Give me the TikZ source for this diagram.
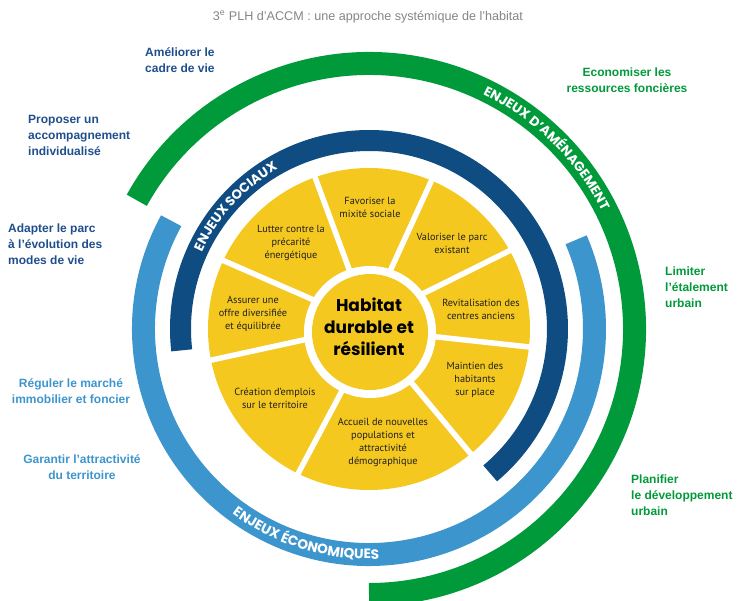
\documentclass[tikz,border=0pt]{standalone}
\usepackage{fontspec}
\setmainfont{Liberation Sans}
\newfontfamily\sectorfont{PT Sans}
\newfontfamily\roundfont{Poppins}
\usetikzlibrary{decorations.text}
\definecolor{socblue}{HTML}{0F4C81}
\definecolor{ecoblue}{HTML}{3D95CE}
\definecolor{amgreen}{HTML}{009A3A}
\definecolor{hayellow}{HTML}{F4C81F}
\definecolor{goalblue}{HTML}{1F4E8C}
\definecolor{titlegray}{HTML}{858585}

\begin{document}
\begin{tikzpicture}[
          x=1pt, y=1pt,
          band/.style={line width=#1},
          cut/.style={white, line width=5.5pt},
          sector/.style={
            align=center,
            inner sep=0pt,
            text=black!88,
            font=\sectorfont\fontsize{10.3}{13}\selectfont,
          },
          goal/.style={
            inner sep=0pt,
            font=\bfseries\fontsize{12}{16}\selectfont,
          },
          core/.style={
            circle,
            fill=hayellow,
            minimum size=116pt,
            inner sep=0pt,
          },
        ]
          \useasboundingbox (-369,-271) rectangle (369,329);

          \draw[band=23pt, amgreen] (151:265.5pt) arc[start angle=151, end angle=-90, radius=265.5pt];
          \draw[band=23pt, ecoblue] (151.3:225.5pt) arc[start angle=151.3, end angle=383.3, radius=225.5pt];
          \draw[band=21pt, socblue] (186.5:188.5pt) arc[start angle=186.5, end angle=-50, radius=188.5pt];

          \path[decorate, decoration={text along path, text align=center, text color=white,
              text={|\roundfont\bfseries\fontsize{13.2}{13}\selectfont|ENJEUX SOCIAUX}}]
              (167.5:184pt) arc[start angle=167.5, end angle=107.5, radius=184pt];
          \path[decorate, decoration={text along path, text align=center, text color=white,
              text={|\roundfont\bfseries\fontsize{13.2}{13}\selectfont|ENJEUX D’AMÉNAGEMENT}}]
              (80:261pt) arc[start angle=80, end angle=11, radius=261pt];
          \path[decorate, decoration={text along path, text align=center, text color=white,
              text={|\roundfont\bfseries\fontsize{13.6}{13}\selectfont|ENJEUX ÉCONOMIQUES}}]
              (223:230pt) arc[start angle=223, end angle=283, radius=230pt];

          \fill[hayellow] (0,0) circle[radius=161pt];
          \draw[cut] (108.4:62pt) -- (109.6:168pt);
          \draw[cut] (70:62pt) -- (67.1:168pt);
          \draw[cut] (33.5:62pt) -- (29:168pt);
          \draw[cut] (-6.7:62pt) -- (-6.4:168pt);
          \draw[cut] (-51.8:62pt) -- (-50.8:168pt);
          \draw[cut] (246.8:62pt) -- (243.8:168pt);
          \draw[cut] (189.3:62pt) -- (191.2:168pt);
          \draw[cut] (152.3:62pt) -- (154.9:168pt);
          \fill[white] (1,-3) circle[radius=66pt];
          \node[core] (core) at (1,-3) {};
          \node[align=center, inner sep=0pt, font=\roundfont\bfseries\fontsize{17}{22}\selectfont]
            (hab) at (0,2) {Habitat\\durable et\\résilient};

          \node[sector] (s1) at (1,122) {Favoriser la\\mixité sociale};
          \node[sector] (s2) at (83,86) {Valoriser le parc\\existant};
          \node[sector] (s3) at (112,19.5) {Revitalisation des\\centres anciens};
          \node[sector] (s4) at (106,-51) {Maintien des\\habitants\\sur place};
          \node[sector] (s5) at (14,-113) {Accueil de nouvelles\\populations et\\attractivité\\démographique};
          \node[sector] (s6) at (-94,-69) {Création d’emplois\\sur le territoire};
          \node[sector] (s7) at (-116,15) {Assurer une\\offre diversifiée\\et équilibrée};
          \node[sector] (s8) at (-78,86) {Lutter contre la\\précarité\\énergétique};

          \node[inner sep=0pt, text=titlegray, font=\fontsize{12.6}{14}\selectfont]
            (title) at (-1,312) {3\textsuperscript{e} PLH d’ACCM : une approche systémique de l’habitat};

          \node[goal, text=goalblue, align=left, anchor=west] (g1) at (-224,269) {Améliorer le\\cadre de vie};
          \node[goal, text=goalblue, align=left, anchor=west] (g2) at (-341,194) {Proposer un\\accompagnement\\individualisé};
          \node[goal, text=goalblue, align=left, anchor=west] (g3) at (-361,85) {Adapter le parc\\à l’évolution des\\modes de vie};
          \node[goal, text=ecoblue, align=center] (g4) at (-298,-62.5) {Réguler le marché\\immobilier et foncier};
          \node[goal, text=ecoblue, align=center] (g5) at (-287,-138) {Garantir l’attractivité\\du territoire};
          \node[goal, text=amgreen, align=center] (g6) at (258,249) {Economiser les\\ressources foncières};
          \node[goal, text=amgreen, align=left, anchor=west] (g7) at (296,41.5) {Limiter\\l’étalement\\urbain};
          \node[goal, text=amgreen, align=left, anchor=west] (g8) at (262,-166.5) {Planifier\\le développement\\urbain};
        \end{tikzpicture}
\end{document}
